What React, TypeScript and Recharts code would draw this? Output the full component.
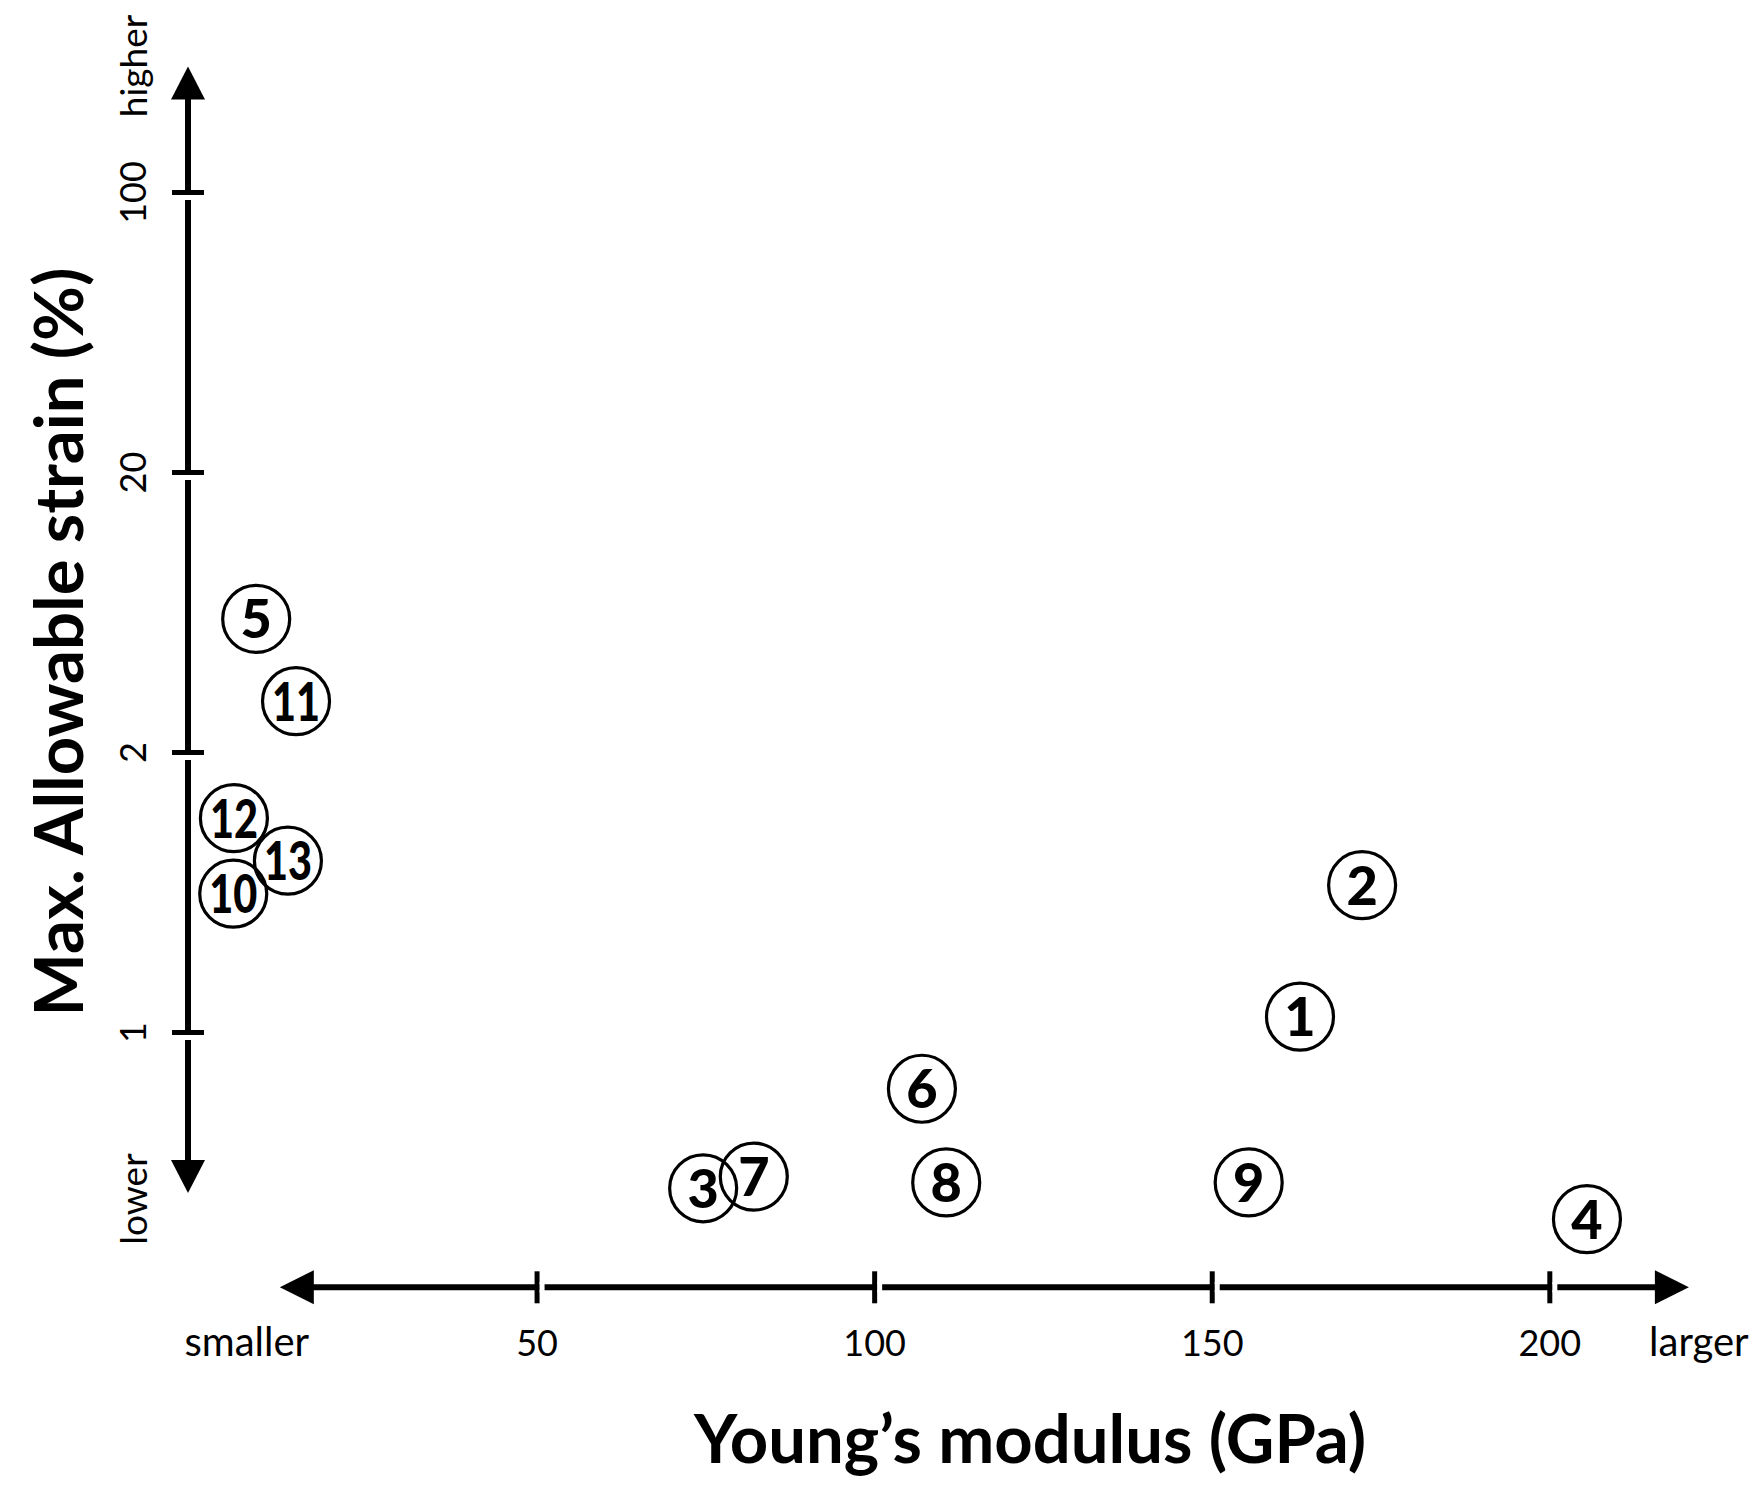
import React from 'react';
import { ScatterChart, Scatter, XAxis, YAxis, ReferenceLine } from 'recharts';

// ---- data ----
const MATERIAL_IDS = [1, 2, 3, 4, 5, 6, 7, 8, 9, 10, 11, 12, 13];
const YOUNGS_MODULUS_GPA = [163.0, 172.2, 74.6, 205.5, 8.4, 107.0, 82.1, 110.6, 155.4, 5.0, 14.3, 5.1, 13.1];
const MAX_STRAIN_PCT = [1.04, 1.44, 0.68, 0.63, 6.0, 0.87, 0.7, 0.69, 0.69, 1.41, 3.05, 1.7, 1.53];

const X_TICKS = [50, 100, 150, 200];
const Y_TICK_VALUES = [1, 2, 20, 100];

const X_TITLE = 'Young\u2019s modulus (GPa)';
const Y_TITLE = 'Max. Allowable strain (%)';

// schematic strain axis: ticks evenly spaced, log interpolation between ticks
function strainToLevel(v: number): number {
  const t = Y_TICK_VALUES;
  const L = Math.log10;
  let i = 0;
  if (v <= t[0]) i = 0;
  else if (v >= t[t.length - 1]) i = t.length - 2;
  else {
    while (v > t[i + 1]) i++;
  }
  return i + (L(v) - L(t[i])) / (L(t[i + 1]) - L(t[i]));
}

const data = MATERIAL_IDS.map((id, i) => ({
  id,
  modulus: YOUNGS_MODULUS_GPA[i],
  strain: MAX_STRAIN_PCT[i],
  level: strainToLevel(MAX_STRAIN_PCT[i]),
}));

const X_DOMAIN: [number, number] = [-1.7, 221];
const Y_DOMAIN: [number, number] = [-0.91, 3.45];
const X_ARROW: [number, number] = [11.9, 220.6];
const Y_ARROW: [number, number] = [-0.573, 3.45];

const FONT = 'Lato, "Open Sans", sans-serif';
const STROKE = '#000';

const XTick = (props: any) => {
  const { x, y, payload } = props;
  return (
    <g>
      <line x1={x} y1={y - 16} x2={x} y2={y + 16} stroke={STROKE} strokeWidth={5} />
      <rect x={x + 2.5} y={y - 5} width={5} height={10} fill="#fff" />
      <text x={x} y={y + 69} textAnchor="middle" fontSize={36} fontFamily={FONT} fill="#000">
        {payload.value}
      </text>
    </g>
  );
};

const YTick = (props: any) => {
  const { x, y, index } = props;
  const lx = x - 56;
  return (
    <g>
      <line x1={x - 16} y1={y} x2={x + 16} y2={y} stroke={STROKE} strokeWidth={5} />
      <rect x={x - 5} y={y + 2.5} width={10} height={5} fill="#fff" />
      <text
        x={lx}
        y={y}
        transform={`rotate(-90 ${lx} ${y})`}
        textAnchor="middle"
        dominantBaseline="central"
        fontSize={36}
        fontFamily={FONT}
        fill="#000"
      >
        {Y_TICK_VALUES[index]}
      </text>
    </g>
  );
};

const HArrow = (props: any) => {
  const { x1, y1, x2 } = props;
  const y = y1;
  const head = 34;
  const half = 17;
  return (
    <g>
      <line x1={x1 + head - 2} y1={y} x2={x2 - head + 2} y2={y} stroke={STROKE} strokeWidth={6} />
      <polygon points={`${x1},${y} ${x1 + head},${y - half} ${x1 + head},${y + half}`} fill={STROKE} />
      <polygon points={`${x2},${y} ${x2 - head},${y - half} ${x2 - head},${y + half}`} fill={STROKE} />
      <text x={x1 - 33} y={y + 69} textAnchor="middle" fontSize={40} fontFamily={FONT} fill="#000">
        smaller
      </text>
      <text x={x2 + 10} y={y + 69} textAnchor="middle" fontSize={40} fontFamily={FONT} fill="#000">
        larger
      </text>
      <text x={1030} y={1463} textAnchor="middle" fontSize={67} fontWeight={700} fontFamily={FONT} fill="#000">
        {X_TITLE}
      </text>
    </g>
  );
};

const VArrow = (props: any) => {
  const { x1, y1, y2 } = props;
  const x = x1;
  const top = Math.min(y1, y2);
  const bot = Math.max(y1, y2);
  const head = 33;
  const half = 17;
  const lx = x - 56;
  return (
    <g>
      <line x1={x} y1={top + head - 2} x2={x} y2={bot - head + 2} stroke={STROKE} strokeWidth={6} />
      <polygon points={`${x},${top} ${x - half},${top + head} ${x + half},${top + head}`} fill={STROKE} />
      <polygon points={`${x},${bot} ${x - half},${bot - head} ${x + half},${bot - head}`} fill={STROKE} />
      <text x={lx} y={66} transform={`rotate(-90 ${lx} 66)`} textAnchor="middle" dominantBaseline="central" fontSize={37} fontFamily={FONT} fill="#000">
        higher
      </text>
      <text x={lx} y={1199} transform={`rotate(-90 ${lx} 1199)`} textAnchor="middle" dominantBaseline="central" fontSize={37} fontFamily={FONT} fill="#000">
        lower
      </text>
      <text x={57} y={642} transform="rotate(-90 57 642)" textAnchor="middle" dominantBaseline="central" fontSize={67} fontWeight={700} fontFamily={FONT} fill="#000">
        {Y_TITLE}
      </text>
    </g>
  );
};

const Marker = (props: any) => {
  const { cx, cy, payload } = props;
  const label = String(payload.id);
  const two = label.length > 1;
  return (
    <g>
      <circle cx={cx} cy={cy} r={33.5} fill="none" stroke={STROKE} strokeWidth={3.2} />
      <text
        x={cx}
        y={cy + 19.5}
        textAnchor="middle"
        fontSize={54}
        fontWeight={900}
        fontFamily={FONT}
        fill="#000"
        {...(two ? { textLength: 48, lengthAdjust: 'spacingAndGlyphs' } : {})}
      >
        {label}
      </text>
    </g>
  );
};

export default function App() {
  return (
    <div style={{ position: 'absolute', left: 0, top: 0, background: '#fff' }}>
      <ScatterChart
        width={1758}
        height={1486}
        margin={{ top: 66.5, right: 66.4, bottom: 168.7, left: 128 }}
      >
        <XAxis
          type="number"
          dataKey="modulus"
          domain={X_DOMAIN}
          ticks={X_TICKS}
          allowDataOverflow
          height={30}
          axisLine={false}
          tickLine={false}
          tickSize={0}
          tickMargin={0}
          tick={<XTick />}
          interval={0}
        />
        <YAxis
          type="number"
          dataKey="level"
          domain={Y_DOMAIN}
          ticks={Y_TICK_VALUES.map(strainToLevel)}
          allowDataOverflow
          width={60}
          axisLine={false}
          tickLine={false}
          tickSize={0}
          tickMargin={0}
          tick={<YTick />}
          interval={0}
        />
        <ReferenceLine
          segment={[
            { x: X_ARROW[0], y: Y_DOMAIN[0] },
            { x: X_ARROW[1], y: Y_DOMAIN[0] },
          ]}
          ifOverflow="visible"
          shape={<HArrow />}
        />
        <ReferenceLine
          segment={[
            { x: X_DOMAIN[0], y: Y_ARROW[1] },
            { x: X_DOMAIN[0], y: Y_ARROW[0] },
          ]}
          ifOverflow="visible"
          shape={<VArrow />}
        />
        <Scatter data={data} isAnimationActive={false} shape={<Marker />} />
      </ScatterChart>
    </div>
  );
}
